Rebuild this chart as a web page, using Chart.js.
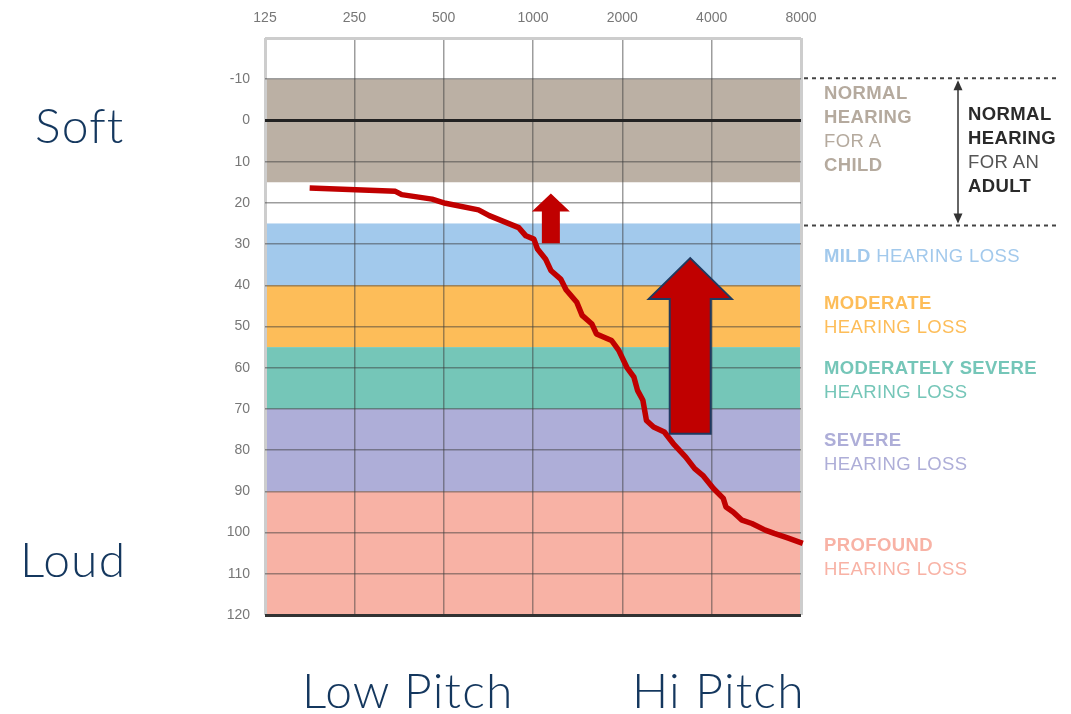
<!DOCTYPE html>
<html>
<head>
<meta charset="utf-8">
<script src="https://cdn.jsdelivr.net/npm/chart.js@4"></script>
<style>
  body { margin: 0; background: #fff; }
  #wrap { position: relative; width: 1071px; height: 714px; overflow: hidden; }
  canvas { position: absolute; left: 0; top: 0; }
  .big { position: absolute; font-family: Lato, "Open Sans", sans-serif; font-weight: 300; font-size: 48px; line-height: 48px; letter-spacing: 1.2px; color: #14375e; white-space: nowrap; }
  .lab { position: absolute; font-family: "Liberation Sans", Arial, sans-serif; font-size: 18.5px; line-height: 24px; letter-spacing: 0.4px; white-space: nowrap; }
  .lab b { font-weight: bold; }
</style>
</head>
<body>
<div id="wrap">
  <canvas id="audiogram" width="1071" height="714"></canvas>

  <div class="big" style="left:35px; top:101px;">Soft</div>
  <div class="big" style="left:20px; top:535px;">Loud</div>
  <div class="big" style="left:302px; top:666px;">Low Pitch</div>
  <div class="big" style="left:632px; top:666px;">Hi Pitch</div>

  <div class="lab" style="left:824px; top:81px; color:#b5aa9e;"><b>NORMAL<br>HEARING</b><br>FOR A<br><b>CHILD</b></div>
  <div class="lab" style="left:968px; top:102px; color:#2a2a2a;"><b>NORMAL<br>HEARING</b><br><span style="color:#555">FOR AN</span><br><b>ADULT</b></div>

  <div class="lab" style="left:824px; top:244px; color:#a2c9ec;"><b>MILD</b> HEARING LOSS</div>
  <div class="lab" style="left:824px; top:291px; color:#fdbd59;"><b>MODERATE</b><br>HEARING LOSS</div>
  <div class="lab" style="left:824px; top:356px; color:#75c6b8;"><b>MODERATELY SEVERE</b><br>HEARING LOSS</div>
  <div class="lab" style="left:824px; top:428px; color:#aeaed8;"><b>SEVERE</b><br>HEARING LOSS</div>
  <div class="lab" style="left:824px; top:533px; color:#f8b2a5;"><b>PROFOUND</b><br>HEARING LOSS</div>
</div>

<script>
// frequency tick labels (one per octave, 0..6)
const freqLabels = ["125", "250", "500", "1000", "2000", "4000", "8000"];

// hearing loss bands (dB HL)
const bandFrom = [-10, 25, 40, 55, 70, 90];
const bandTo = [15, 40, 55, 70, 90, 120];
const bandColors = ["#bbb0a4", "#a2c9ec", "#fdbd59", "#75c6b8", "#aeaed8", "#f8b2a5"];

// the red hearing curve, x = octaves above 125 Hz, y = dB HL
const curveOctave = [0.5, 1.46, 1.53, 1.87, 2.02, 2.39, 2.51, 2.84, 2.92, 3.01, 3.05, 3.14, 3.2, 3.31, 3.37,
  3.49, 3.55, 3.66, 3.71, 3.88, 3.96, 4.05, 4.13, 4.17, 4.23, 4.27, 4.35, 4.47, 4.57, 4.71, 4.81, 4.9,
  5.02, 5.13, 5.16, 5.24, 5.34, 5.45, 5.6, 5.7, 5.85, 6.02];
const curveDb = [16.4, 17.2, 18.0, 19.1, 20.1, 21.7, 23.1, 26.0, 28.0, 28.8, 31.2, 33.6, 36.4, 38.5, 41.1,
  44.1, 47.3, 49.4, 51.8, 53.4, 55.8, 59.9, 62.3, 65.5, 67.9, 72.8, 74.4, 75.6, 78.4, 81.7, 84.5, 86.1,
  89.3, 91.7, 93.8, 95.0, 97.0, 97.8, 99.4, 100.2, 101.3, 102.6];

// improvement arrows
const arrowOctave = [3.2, 4.76];
const arrowTailDb = [29.8, 76.0];
const arrowHeadDb = [22.1, 43.3];
const arrowTipDb = [17.7, 33.4];

const curvePoints = curveOctave.map((x, i) => ({ x: x, y: curveDb[i] }));

const bandsPlugin = {
  id: "bands",
  beforeDraw(chart) {
    const ctx = chart.ctx;
    const area = chart.chartArea;
    const y = chart.scales.y;
    ctx.save();
    for (let i = 0; i < bandFrom.length; i++) {
      const top = y.getPixelForValue(bandFrom[i]);
      const bottom = y.getPixelForValue(bandTo[i]);
      ctx.fillStyle = bandColors[i];
      ctx.fillRect(area.left, top, area.right - area.left, bottom - top);
    }
    ctx.restore();
  },
};

const arrowsPlugin = {
  id: "arrows",
  afterDatasetsDraw(chart) {
    const ctx = chart.ctx;
    const xs = chart.scales.x;
    const ys = chart.scales.y;
    const shaftW = [18, 41];
    const headW = [38, 83];
    ctx.save();
    for (let i = 0; i < arrowOctave.length; i++) {
      const cx = xs.getPixelForValue(arrowOctave[i]);
      const tail = ys.getPixelForValue(arrowTailDb[i]);
      const head = ys.getPixelForValue(arrowHeadDb[i]);
      const tip = ys.getPixelForValue(arrowTipDb[i]);
      const s = shaftW[i] / 2;
      const h = headW[i] / 2;
      ctx.beginPath();
      ctx.moveTo(cx - s, tail);
      ctx.lineTo(cx - s, head);
      ctx.lineTo(cx - h, head);
      ctx.lineTo(cx, tip);
      ctx.lineTo(cx + h, head);
      ctx.lineTo(cx + s, head);
      ctx.lineTo(cx + s, tail);
      ctx.closePath();
      ctx.fillStyle = "#c00000";
      ctx.fill();
      if (i === 1) {
        ctx.lineWidth = 2;
        ctx.strokeStyle = "#1f3a60";
        ctx.lineJoin = "miter";
        ctx.stroke();
      }
    }
    ctx.restore();
  },
  afterDraw(chart) {
    // dotted "normal hearing for an adult" range on the right
    const ctx = chart.ctx;
    const area = chart.chartArea;
    const ys = chart.scales.y;
    const yTop = ys.getPixelForValue(-10) - 1;
    const yBot = ys.getPixelForValue(25) + 2;
    ctx.save();
    ctx.strokeStyle = "#444";
    ctx.lineWidth = 2;
    ctx.setLineDash([4, 4]);
    ctx.beginPath();
    ctx.moveTo(area.right + 3, yTop);
    ctx.lineTo(1058, yTop);
    ctx.moveTo(area.right + 3, yBot);
    ctx.lineTo(1058, yBot);
    ctx.stroke();
    ctx.setLineDash([]);
    const ax = 958;
    ctx.lineWidth = 1.5;
    ctx.strokeStyle = "#333";
    ctx.beginPath();
    ctx.moveTo(ax, yTop + 8);
    ctx.lineTo(ax, yBot - 8);
    ctx.stroke();
    ctx.fillStyle = "#333";
    ctx.beginPath();
    ctx.moveTo(ax, yTop + 2);
    ctx.lineTo(ax - 4.5, yTop + 12);
    ctx.lineTo(ax + 4.5, yTop + 12);
    ctx.closePath();
    ctx.fill();
    ctx.beginPath();
    ctx.moveTo(ax, yBot - 2);
    ctx.lineTo(ax - 4.5, yBot - 12);
    ctx.lineTo(ax + 4.5, yBot - 12);
    ctx.closePath();
    ctx.fill();
    ctx.restore();
  },
};

const tickFont = { family: "'Liberation Sans', Arial, sans-serif", size: 14 };

new Chart(document.getElementById("audiogram"), {
  type: "line",
  data: {
    datasets: [
      {
        data: curvePoints,
        borderColor: "#c00000",
        borderWidth: 5.5,
        pointRadius: 0,
        tension: 0,
        clip: false,
        borderJoinStyle: "round",
      },
    ],
  },
  options: {
    responsive: false,
    animation: false,
    devicePixelRatio: 1,
    layout: { padding: { left: 200, right: 270, top: 0, bottom: 99 } },
    plugins: { legend: { display: false }, tooltip: { enabled: false } },
    scales: {
      x: {
        type: "linear",
        position: "top",
        min: 0,
        max: 6,
        afterFit: (scale) => { scale.height = 38; },
        ticks: {
          stepSize: 1,
          padding: 11,
          color: "#777",
          font: tickFont,
          callback: (v) => freqLabels[v],
        },
        border: { display: false },
        grid: {
          drawTicks: false,
          color: (c) => (c.tick.value === 0 || c.tick.value === 6 ? "#cdcdcd" : "rgba(60,60,60,0.5)"),
          lineWidth: (c) => (c.tick.value === 0 || c.tick.value === 6 ? 3 : 1.5),
        },
      },
      y: {
        type: "linear",
        reverse: true,
        min: -20,
        max: 120,
        afterFit: (scale) => { scale.width = 65; },
        ticks: {
          stepSize: 10,
          padding: 15,
          color: "#777",
          font: tickFont,
          callback: (v) => (v === -20 ? "" : v),
        },
        border: { display: false },
        grid: {
          drawTicks: false,
          color: (c) => {
            if (c.tick.value === -20) return "#cdcdcd";
            if (c.tick.value === 0) return "#222";
            if (c.tick.value === 120) return "#333";
            return "rgba(60,60,60,0.5)";
          },
          lineWidth: (c) => ([-20, 0, 120].includes(c.tick.value) ? 3 : 1.5),
        },
      },
    },
  },
  plugins: [bandsPlugin, arrowsPlugin],
});
</script>
</body>
</html>
